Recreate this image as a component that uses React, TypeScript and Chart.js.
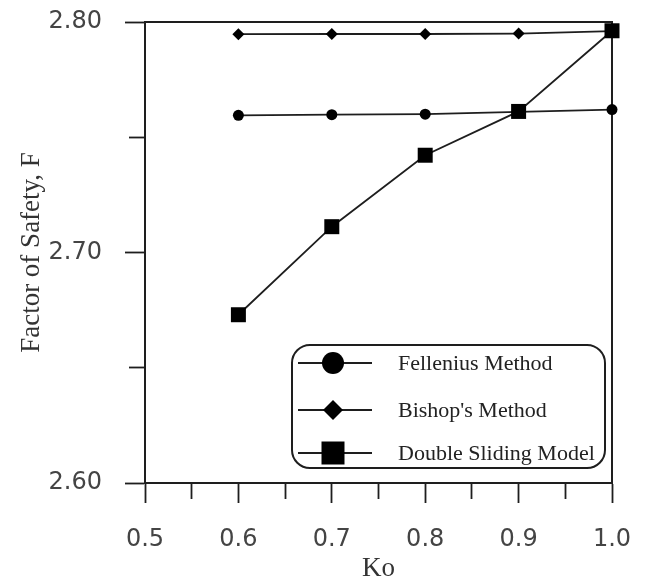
import React, { useEffect, useRef } from "react";
import { Chart, registerables } from "chart.js";

Chart.register(...registerables);

const koValues = [0.6, 0.7, 0.8, 0.9, 1.0];
const fellenius = [2.7595, 2.7598, 2.76, 2.761, 2.762];
const bishop = [2.7947, 2.7948, 2.7948, 2.795, 2.796];
const doubleSliding = [2.673, 2.7112, 2.7422, 2.7612, 2.7962];
const seriesNames = ["Fellenius Method", "Bishop's Method", "Double Sliding Model"];
const xTitle = "Ko";
const yTitle = "Factor of Safety, F";

const INK = "#1e1e1e";

const isMajor = (v: number) => Math.abs(v * 10 - Math.round(v * 10)) < 1e-6;

const framePlugin = {
  id: "frame",
  beforeDatasetsDraw(chart: any) {
    const { ctx, chartArea } = chart;
    ctx.save();
    ctx.strokeStyle = INK;
    ctx.lineWidth = 2;
    ctx.beginPath();
    ctx.moveTo(chartArea.left, chartArea.top);
    ctx.lineTo(chartArea.right, chartArea.top);
    ctx.lineTo(chartArea.right, chartArea.bottom);
    ctx.stroke();
    ctx.restore();
  },
};

const legendPlugin = {
  id: "boxLegend",
  afterDraw(chart: any) {
    const { ctx } = chart;
    const bx = 292, by = 345, bw = 313, bh = 123, r = 18;
    ctx.save();
    ctx.strokeStyle = INK;
    ctx.lineWidth = 2;
    ctx.beginPath();
    ctx.moveTo(bx + r, by);
    ctx.lineTo(bx + bw - r, by);
    ctx.arcTo(bx + bw, by, bx + bw, by + r, r);
    ctx.lineTo(bx + bw, by + bh - r);
    ctx.arcTo(bx + bw, by + bh, bx + bw - r, by + bh, r);
    ctx.lineTo(bx + r, by + bh);
    ctx.arcTo(bx, by + bh, bx, by + bh - r, r);
    ctx.lineTo(bx, by + r);
    ctx.arcTo(bx, by, bx + r, by, r);
    ctx.closePath();
    ctx.stroke();

    const rows = [363, 410, 453];
    const styles = ["circle", "diamond", "square"];
    rows.forEach((y, i) => {
      ctx.strokeStyle = INK;
      ctx.lineWidth = 2;
      ctx.beginPath();
      ctx.moveTo(298, y);
      ctx.lineTo(372, y);
      ctx.stroke();
      ctx.fillStyle = "#000";
      const cx = 333;
      ctx.beginPath();
      if (styles[i] === "circle") {
        ctx.arc(cx, y, 11, 0, Math.PI * 2);
      } else if (styles[i] === "diamond") {
        ctx.moveTo(cx, y - 10);
        ctx.lineTo(cx + 10, y);
        ctx.lineTo(cx, y + 10);
        ctx.lineTo(cx - 10, y);
        ctx.closePath();
      } else {
        ctx.rect(cx - 11.5, y - 11.5, 23, 23);
      }
      ctx.fill();
      ctx.fillStyle = "#222";
      ctx.font = "22px 'Liberation Serif'";
      ctx.textBaseline = "middle";
      ctx.textAlign = "left";
      ctx.fillText(seriesNames[i], 398, y + 1);
    });
    ctx.restore();
  },
};

export default function App() {
  const ref = useRef<HTMLCanvasElement | null>(null);
  useEffect(() => {
    if (!ref.current) return;
    const mk = (vals: number[]) => koValues.map((x, i) => ({ x, y: vals[i] }));
    const chart = new Chart(ref.current, {
      type: "line",
      data: {
        datasets: [
          {
            label: seriesNames[0],
            data: mk(fellenius),
            borderColor: INK,
            backgroundColor: "#000",
            borderWidth: 1.8,
            pointStyle: "circle",
            pointRadius: 5.5,
            pointBorderWidth: 0,
            tension: 0,
            clip: false,
            order: 2,
          },
          {
            label: seriesNames[1],
            data: mk(bishop),
            borderColor: INK,
            backgroundColor: "#000",
            borderWidth: 1.8,
            pointStyle: "rectRot",
            pointRadius: 6,
            pointBorderWidth: 0,
            tension: 0,
            clip: false,
            order: 1,
          },
          {
            label: seriesNames[2],
            data: mk(doubleSliding),
            borderColor: INK,
            backgroundColor: "#000",
            borderWidth: 1.8,
            pointStyle: "rect",
            pointRadius: 10.6,
            pointBorderWidth: 0,
            tension: 0,
            clip: false,
            order: 0,
          },
        ],
      },
      options: {
        animation: false,
        responsive: false,
        events: [],
        layout: { padding: { top: 22, right: 37, left: 0, bottom: 0 } },
        plugins: { legend: { display: false }, tooltip: { enabled: false } },
        scales: {
          x: {
            type: "linear",
            min: 0.5,
            max: 1.0,
            afterFit: (s: any) => {
              s.height = 102;
              s.paddingLeft = 0;
              s.paddingRight = 0;
            },
            ticks: {
              stepSize: 0.05,
              autoSkip: false,
              maxRotation: 0,
              padding: 22,
              color: "#444",
              font: { family: "'DejaVu Sans'", size: 24 },
              callback: (v: any) => (isMajor(Number(v)) ? Number(v).toFixed(1) : ""),
            },
            grid: {
              drawOnChartArea: false,
              drawTicks: true,
              tickLength: 20,
              color: INK,
              tickColor: INK,
              tickWidth: 1.8,
              tickBorderDash: (c: any) => (c.tick && isMajor(c.tick.value) ? [] : [15, 100]),
            },
            border: { display: true, color: INK, width: 2 },
            title: {
              display: true,
              text: xTitle,
              color: "#333",
              font: { family: "'Liberation Serif'", size: 27 },
              padding: { top: 0, bottom: 0 },
            },
          },
          y: {
            type: "linear",
            min: 2.6,
            max: 2.8,
            afterFit: (s: any) => {
              s.width = 145;
              s.paddingTop = 0;
              s.paddingBottom = 0;
            },
            ticks: {
              stepSize: 0.05,
              autoSkip: false,
              padding: 23,
              color: "#444",
              font: { family: "'DejaVu Sans'", size: 24 },
              callback: (v: any) => (isMajor(Number(v)) ? Number(v).toFixed(2) : ""),
            },
            grid: {
              drawOnChartArea: false,
              drawTicks: true,
              tickLength: 20,
              color: INK,
              tickColor: INK,
              tickWidth: 1.8,
              tickBorderDash: (c: any) => (c.tick && isMajor(c.tick.value) ? [] : [16, 4]),
              tickBorderDashOffset: (c: any) => (c.tick && isMajor(c.tick.value) ? 0 : 16),
            },
            border: { display: true, color: INK, width: 2 },
            title: {
              display: true,
              text: yTitle,
              color: "#333",
              font: { family: "'Liberation Serif'", size: 27 },
              padding: { top: 16, bottom: 0 },
            },
          },
        },
      },
      plugins: [framePlugin, legendPlugin],
    });
    return () => chart.destroy();
  }, []);

  return (
    <div style={{ position: "fixed", left: 0, top: 0, width: 649, height: 585, background: "#fff" }}>
      <canvas ref={ref} width={649} height={585} style={{ display: "block" }} />
    </div>
  );
}
